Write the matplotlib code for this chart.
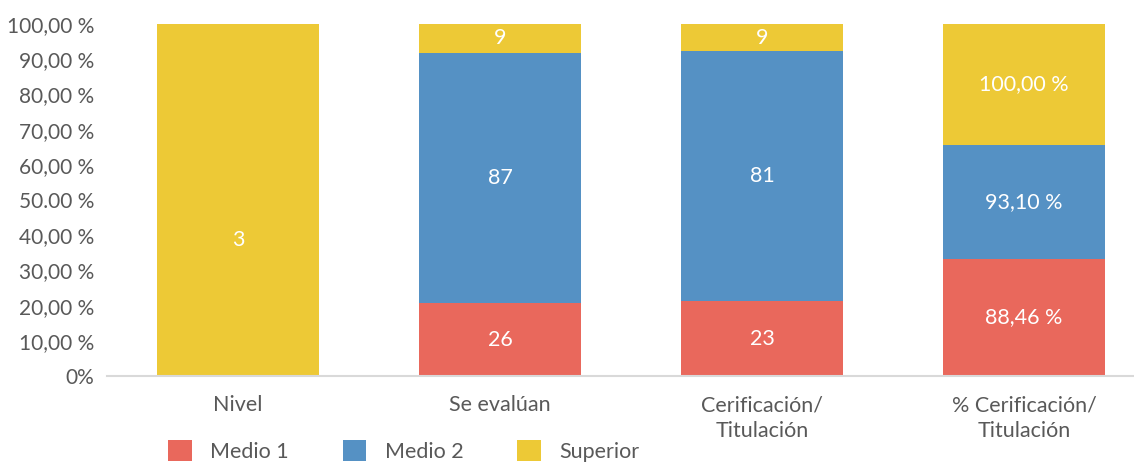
import matplotlib.pyplot as plt
from matplotlib.patches import Patch

# categories and stacked shares (percent of each bar)
categories = ['Nivel', 'Se evalúan', 'Cerificación/\nTitulación', '% Cerificación/\nTitulación']
medio1_pct = [0.0, 20.7, 21.3, 33.2]
medio2_pct = [0.0, 71.1, 70.9, 32.4]
superior_pct = [100.0, 8.2, 7.8, 34.4]

# data labels shown inside the segments
medio1_lbl = ['', '26', '23', '88,46 %']
medio2_lbl = ['', '87', '81', '93,10 %']
superior_lbl = ['3', '9', '9', '100,00 %']

series_names = ['Medio 1', 'Medio 2', 'Superior']
colors = ['#E9685C', '#5591C4', '#EDC936']

yticks = [0, 10, 20, 30, 40, 50, 60, 70, 80, 90, 100]
ytick_labels = ['0%', '10,00 %', '20,00 %', '30,00 %', '40,00 %', '50.00 %',
                '60,00 %', '70,00 %', '80,00 %', '90,00 %', '100,00 %']

plt.rcParams['font.family'] = ['Lato', 'DejaVu Sans']
text_color = '#595959'
fs = 15.5

fig = plt.figure(figsize=(11.34, 4.63), dpi=100)
ax = fig.add_axes([107 / 1134, 1 - 376 / 463, 1 - 107 / 1134, 352 / 463])

x = list(range(len(categories)))
width = 0.62
bottom = [0.0] * len(categories)
for k, (vals, lbls, col) in enumerate(zip([medio1_pct, medio2_pct, superior_pct],
                                          [medio1_lbl, medio2_lbl, superior_lbl], colors)):
    ax.bar(x, vals, width, bottom=bottom, color=col, zorder=2)
    for i in x:
        if lbls[i]:
            ypos = bottom[i] + vals[i] / 2
            # the single "Nivel" label sits lower in the original
            if i == 0 and k == 2:
                ypos = 38.5
            ax.text(i, ypos, lbls[i], ha='center', va='center',
                    color='white', fontsize=fs)
    bottom = [b + v for b, v in zip(bottom, vals)]

ax.set_xlim(-0.5, 3.42)
ax.set_ylim(0, 100)
ax.set_yticks(yticks)
ax.set_yticklabels(ytick_labels)
ax.set_xticks(x)
ax.set_xticklabels(categories)
ax.tick_params(axis='y', length=0, pad=9, labelsize=15, labelcolor=text_color)
ax.tick_params(axis='x', length=0, pad=14, labelsize=fs, labelcolor=text_color)
for lab in ax.get_xticklabels():
    lab.set_linespacing(1.33)

for s in ['top', 'right', 'left']:
    ax.spines[s].set_visible(False)
ax.spines['bottom'].set_color('#D9D9D9')
ax.spines['bottom'].set_linewidth(1.5)

handles = [Patch(facecolor=c, label=n) for c, n in zip(colors, series_names)]
fig.legend(handles=handles, loc='center left', bbox_to_anchor=(149 / 1134, 1 - 451 / 463),
           ncol=3, frameon=False, fontsize=fs, labelcolor=text_color,
           handlelength=1.1, handleheight=1.1, columnspacing=2.5, handletextpad=0.85)

fig.savefig('out.png', dpi=100)
